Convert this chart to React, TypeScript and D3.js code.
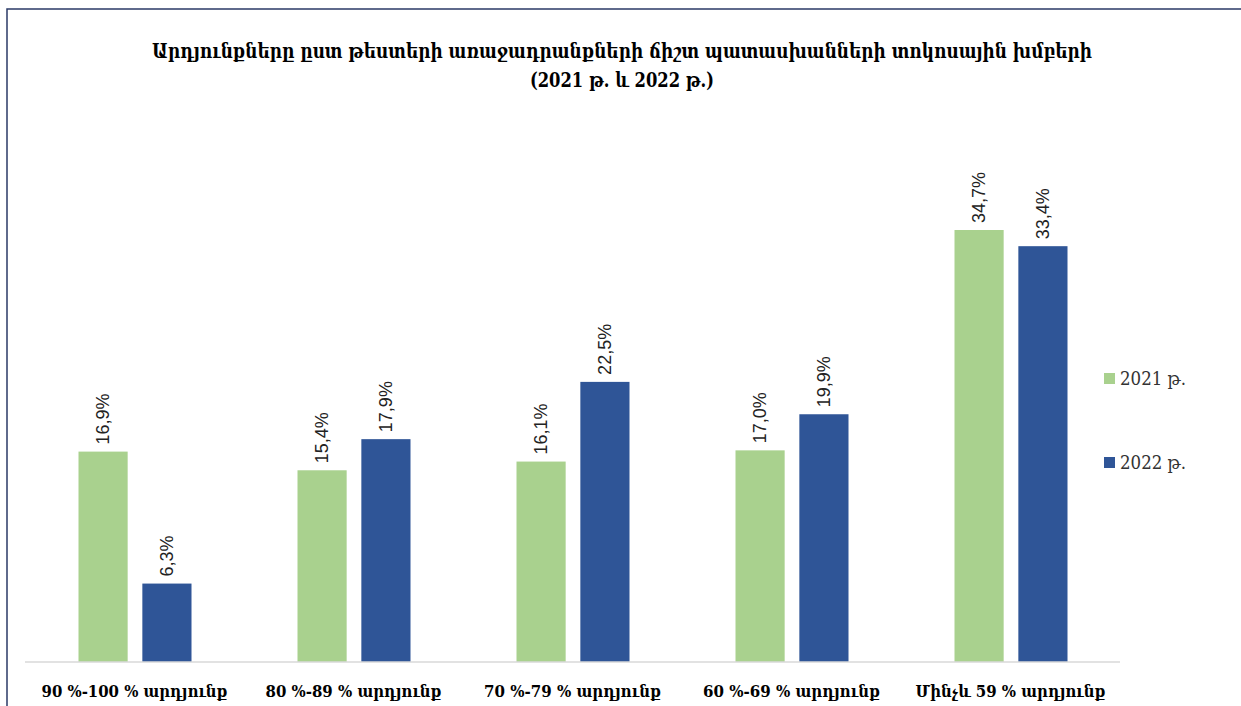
import { useEffect, useRef } from "react";
import * as d3 from "d3";

const categories = [
  "90 %-100 % արդյունք",
  "80 %-89 % արդյունք",
  "70 %-79 % արդյունք",
  "60 %-69 % արդյունք",
  "Մինչև 59 % արդյունք",
];
const seriesNames = ["2021 թ.", "2022 թ."];
const values2021 = [16.9, 15.4, 16.1, 17.0, 34.7];
const values2022 = [6.3, 17.9, 22.5, 19.9, 33.4];
const titleLines = [
  "Արդյունքները ըստ թեստերի առաջադրանքների ճիշտ պատասխանների տոկոսային խմբերի",
  "(2021 թ. և 2022 թ.)",
];

const W = 1241;
const H = 706;

const App = () => {
  const ref = useRef<SVGSVGElement>(null);

  useEffect(() => {
    const svg = d3.select(ref.current);
    svg.selectAll("*").remove();

    const serif = "'DejaVu Serif', 'Liberation Serif', serif";
    const colors = ["#a9d18e", "#2f5597"];

    // outer frame
    svg.append("rect")
      .attr("x", 7).attr("y", 9)
      .attr("width", W).attr("height", H)
      .attr("fill", "#fff")
      .attr("stroke", "#2b3a67")
      .attr("stroke-width", 1.5);

    // title (slightly stretched vertically to mimic the condensed face)
    const titleWidths = [940, 184];
    svg.append("g")
      .attr("transform", "translate(622,0) scale(1,1.12)")
      .selectAll("text")
      .data(titleLines)
      .join("text")
      .attr("x", 0)
      .attr("y", (_, i) => (58 + i * 29) / 1.12)
      .attr("text-anchor", "middle")
      .attr("font-family", serif)
      .attr("font-weight", "bold")
      .attr("font-size", 19)
      .attr("textLength", (_, i) => titleWidths[i])
      .attr("lengthAdjust", "spacingAndGlyphs")
      .attr("fill", "#000")
      .text(d => d);

    const left = 25, right = 1120, baseline = 662;
    const x = d3.scaleBand().domain(categories).range([left, right]);
    const sub = d3.scaleBand().domain(seriesNames).range([-56, 57]).paddingInner(0.23);
    const y = d3.scaleLinear().domain([0, 34.7]).range([baseline, 230]);

    const series = [values2021, values2022];

    series.forEach((vals, si) => {
      const g = svg.append("g");
      g.selectAll("rect")
        .data(vals)
        .join("rect")
        .attr("x", (_, i) => x(categories[i])! + x.bandwidth() / 2 + sub(seriesNames[si])!)
        .attr("y", d => y(d))
        .attr("width", sub.bandwidth())
        .attr("height", d => baseline - y(d))
        .attr("fill", colors[si]);

      g.selectAll("text")
        .data(vals)
        .join("text")
        .attr("transform", (d, i) => {
          const cx = x(categories[i])! + x.bandwidth() / 2 + sub(seriesNames[si])! + sub.bandwidth() / 2;
          return `translate(${cx + 6},${y(d) - 7}) rotate(-90)`;
        })
        .attr("font-family", "'Liberation Sans', Arial, sans-serif")
        .attr("font-size", 18)
        .attr("fill", "#222")
        .text(d => d3.format(".1f")(d).replace(".", ",") + "%");
    });

    // axis line
    svg.append("line")
      .attr("x1", left).attr("x2", right)
      .attr("y1", baseline).attr("y2", baseline)
      .attr("stroke", "#d9d9d9")
      .attr("stroke-width", 1.5);

    // category labels
    const catWidths = [186, 176, 177, 177, 190];
    svg.append("g")
      .selectAll("text")
      .data(categories)
      .join("text")
      .attr("x", d => x(d)! + x.bandwidth() / 2)
      .attr("y", 697)
      .attr("text-anchor", "middle")
      .attr("font-family", serif)
      .attr("font-weight", "bold")
      .attr("font-size", 17)
      .attr("textLength", (_, i) => catWidths[i])
      .attr("lengthAdjust", "spacingAndGlyphs")
      .text(d => d);

    // legend
    const legend = svg.append("g")
      .selectAll("g")
      .data(seriesNames)
      .join("g")
      .attr("transform", (_, i) => `translate(1104,${373 + i * 84})`);
    legend.append("rect")
      .attr("width", 11).attr("height", 11)
      .attr("fill", (_, i) => colors[i]);
    legend.append("text")
      .attr("x", 16).attr("y", 12)
      .attr("font-family", serif)
      .attr("font-size", 18)
      .attr("textLength", 66)
      .attr("lengthAdjust", "spacingAndGlyphs")
      .attr("fill", "#333")
      .text(d => d);
  }, []);

  return (
    <svg
      ref={ref}
      width={W}
      height={H}
      style={{ position: "absolute", left: 0, top: 0, background: "#fff" }}
    />
  );
};

export default App;
